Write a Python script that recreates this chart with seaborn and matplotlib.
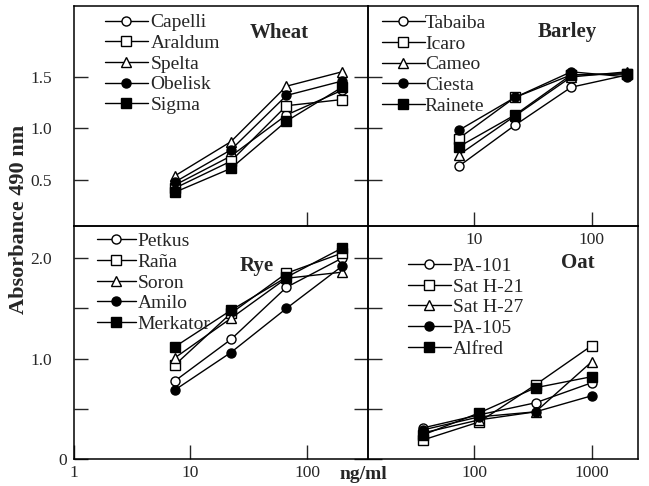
import matplotlib
matplotlib.use("Agg")
import matplotlib.pyplot as plt
import matplotlib.transforms as mtransforms
import seaborn as sns
import pandas as pd

# dilution series, ng/ml
conc_cereal = [7.4, 22.2, 66.7, 200]
conc_oat = [37, 111, 333, 1000]

wheat_names = ["Capelli", "Araldum", "Spelta", "Obelisk", "Sigma"]
wheat_vals = [[0.45, 0.73, 1.13, 1.37],
              [0.42, 0.68, 1.22, 1.28],
              [0.54, 0.87, 1.41, 1.55],
              [0.48, 0.79, 1.32, 1.46],
              [0.38, 0.61, 1.07, 1.40]]

barley_names = ["Tabaiba", "Icaro", "Cameo", "Ciesta", "Rainete"]
barley_vals = [[0.63, 1.03, 1.40, 1.52],
               [0.90, 1.30, 1.52, 1.53],
               [0.74, 1.12, 1.50, 1.55],
               [0.98, 1.30, 1.55, 1.50],
               [0.82, 1.13, 1.52, 1.53]]

rye_names = ["Petkus", "Raña", "Soron", "Amilo", "Merkator"]
rye_vals = [[0.78, 1.19, 1.71, 2.00],
            [0.94, 1.45, 1.85, 2.05],
            [1.01, 1.40, 1.80, 1.86],
            [0.69, 1.06, 1.50, 1.92],
            [1.12, 1.48, 1.81, 2.10]]

oat_names = ["PA-101", "Sat H-21", "Sat H-27", "PA-105", "Alfred"]
oat_vals = [[0.31, 0.44, 0.56, 0.76],
            [0.19, 0.37, 0.74, 1.13],
            [0.26, 0.39, 0.47, 0.97],
            [0.29, 0.42, 0.47, 0.63],
            [0.24, 0.46, 0.71, 0.82]]

# same symbol sequence in every panel
markers = ["o", "s", "^", "o", "s"]
faces = ["white", "white", "white", "black", "black"]

sns.set_style("white")
plt.rcParams['font.family'] = ['Liberation Serif', 'DejaVu Serif']
plt.rcParams['axes.linewidth'] = 1.1

W, H = 649, 486
fig = plt.figure(figsize=(W / 100, H / 100), dpi=100)


def px_axes(x0, y0, x1, y1):
    ax = fig.add_axes([x0 / W, 1 - y1 / H, (x1 - x0) / W, (y1 - y0) / H])
    ax.patch.set_visible(False)
    return ax


ax_w = px_axes(74, 6, 368, 226)
ax_b = px_axes(368, 6, 638, 226)
ax_r = px_axes(74, 226, 368, 459)
ax_o = px_axes(368, 226, 638, 459)


def draw_panel(ax, conc, names, vals):
    df = pd.DataFrame({
        "conc": [c for _ in names for c in conc],
        "absorbance": [v for row in vals for v in row],
        "variety": [n for n in names for _ in conc],
    })
    for name, m, fc in zip(names, markers, faces):
        sns.lineplot(data=df[df["variety"] == name], x="conc", y="absorbance",
                     ax=ax, color="black", linewidth=1, marker=m,
                     markerfacecolor=fc, markeredgecolor="black",
                     markeredgewidth=1, markersize=6.5, label=name)
    ax.set_xscale("log")
    ax.set_xlabel("")
    ax.set_ylabel("")
    ax.minorticks_off()


draw_panel(ax_w, conc_cereal, wheat_names, wheat_vals)
draw_panel(ax_b, conc_cereal, barley_names, barley_vals)
draw_panel(ax_r, conc_cereal, rye_names, rye_vals)
draw_panel(ax_o, conc_oat, oat_names, oat_vals)

# axis limits
ax_w.set_xlim(1, 334)
ax_r.set_xlim(1, 334)
ax_b.set_xlim(1.26, 246)
ax_o.set_xlim(12.6, 2460)
for ax in (ax_w, ax_b):
    ax.set_ylim(0.05, 2.19)
    ax.set_yticks([0.5, 1.0, 1.5])
for ax in (ax_r, ax_o):
    ax.set_ylim(0, 2.32)
    ax.set_yticks([0, 0.5, 1.0, 1.5, 2.0])

ax_w.set_yticklabels(["0.5", "1.0", "1.5"])
ax_r.set_yticklabels(["0", "", "1.0", "", "2.0"])

ax_w.set_xticks([100])
ax_w.set_xticklabels([""])
ax_r.set_xticks([1, 10, 100])
ax_r.set_xticklabels(["1", "10", "100"])
ax_b.set_xticks([10, 100])
ax_b.set_xticklabels(["10", "100"])
ax_o.set_xticks([100, 1000])
ax_o.set_xticklabels(["100", "1000"])

for ax in (ax_w, ax_r):
    ax.tick_params(axis="y", direction="in", length=10, width=1, left=True,
                   right=True, labelsize=12.5, pad=16)
for ax in (ax_b, ax_o):
    ax.tick_params(axis="y", direction="in", length=10, width=1, left=True,
                   right=False, labelleft=False)
for ax in (ax_w, ax_b, ax_r, ax_o):
    ax.tick_params(axis="x", direction="in", length=10, width=1, bottom=True,
                   top=False, labelsize=12.5, pad=4)
    for sp in ax.spines.values():
        sp.set_color("black")

# the "0" on the rye axis sits closer to the frame
lab0 = ax_r.yaxis.get_major_ticks()[0].label1
lab0.set_transform(lab0.get_transform() +
                   mtransforms.ScaledTranslation(11 / 72, 0, fig.dpi_scale_trans))

# legends
leg_kw = dict(loc="upper left", frameon=False, fontsize=14, borderpad=0,
              borderaxespad=0, labelspacing=0.16)
ax_w.legend(bbox_to_anchor=(0.105, 0.965), handletextpad=0.15,
            handlelength=2.2, **leg_kw)
ax_b.legend(bbox_to_anchor=(0.052, 0.962), handletextpad=0.0,
            handlelength=2.2, **leg_kw)
ax_r.legend(bbox_to_anchor=(0.078, 0.972), handletextpad=0.1,
            handlelength=2.0, **leg_kw)
ax_o.legend(bbox_to_anchor=(0.148, 0.866), handletextpad=0.1,
            handlelength=2.2, **leg_kw)

# panel titles
title_kw = dict(fontsize=15, fontweight="bold", ha="center", va="center")
ax_w.text(0.697, 0.877, "Wheat", transform=ax_w.transAxes, **title_kw)
ax_b.text(0.737, 0.882, "Barley", transform=ax_b.transAxes, **title_kw)
ax_r.text(0.622, 0.828, "Rye", transform=ax_r.transAxes, **title_kw)
ax_o.text(0.778, 0.841, "Oat", transform=ax_o.transAxes, **title_kw)

fig.text(19 / W, 1 - 219 / H, "Absorbance 490 nm", rotation=90, fontsize=16,
         fontweight="bold", ha="center", va="center")
fig.text(363 / W, 1 - 474 / H, "ng/ml", fontsize=14, fontweight="bold",
         ha="center", va="center")

fig.savefig("out.png", dpi=100)
